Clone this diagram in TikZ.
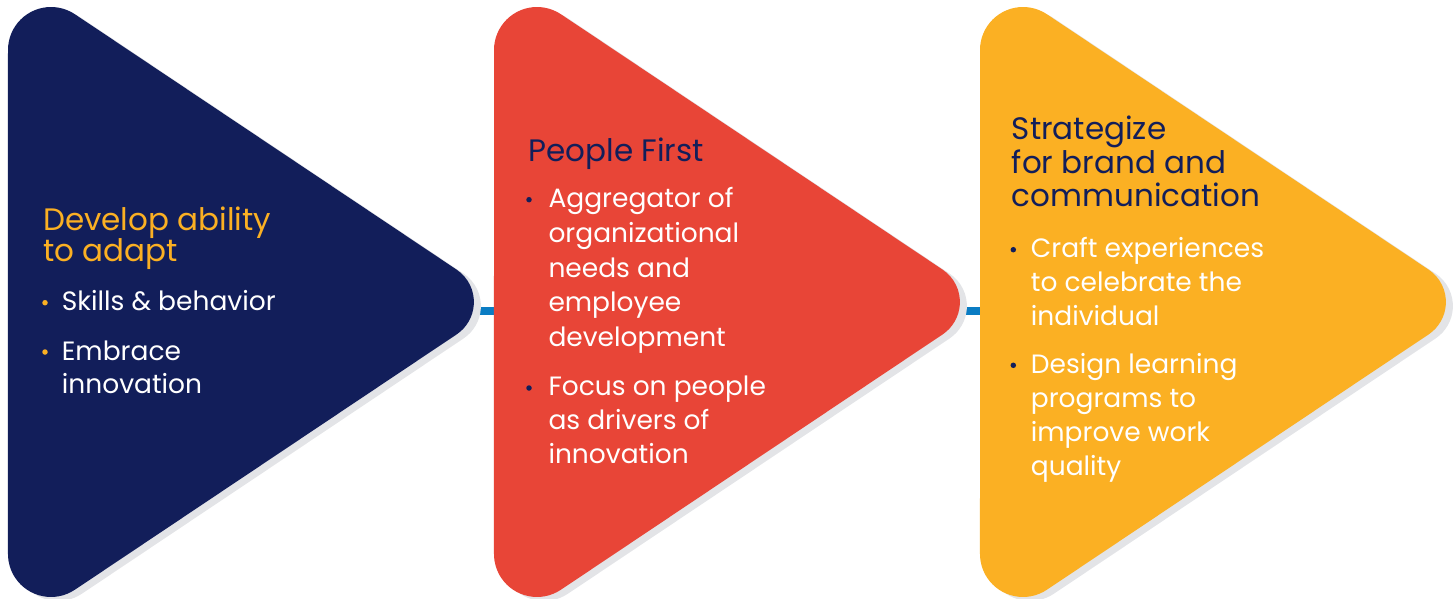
\documentclass[tikz,border=0pt]{standalone}
\usepackage{fontspec}
\setmainfont{Poppins}
\usetikzlibrary{calc}

\definecolor{navy}{HTML}{121E5A}
\definecolor{coral}{HTML}{E84537}
\definecolor{gold}{HTML}{FBB023}
\definecolor{linkblue}{HTML}{0A7CC3}
\definecolor{shadowgray}{HTML}{E3E4E7}

% multi-line nodes are placed by the baseline of their last line
\tikzset{
  heading/.style={anchor=base west, inner sep=0pt, align=left,
                  font=\fontsize{31}{33}\selectfont},
  body/.style={anchor=base west, inner sep=0pt, align=left, text=white,
               font=\fontsize{26.5}{34.3}\selectfont},
  dot/.style={circle, inner sep=0pt, minimum size=5.5pt},
  bar/.style={draw=linkblue, line width=8pt},
  shadowfill/.style={fill=shadowgray},
}

\begin{document}
\begin{tikzpicture}[x=1pt, y=-1pt]
  \useasboundingbox (0,0) rectangle (1454,598);

  % joining bars between the chevrons
  \coordinate (tip1) at (474,311);
  \coordinate (left2) at (494.5,311);
  \coordinate (tip2) at (960,311);
  \coordinate (left3) at (980.5,311);
  \draw[bar] (tip1) -- (left2);
  \draw[bar] (tip2) -- (left3);

  % rounded chevrons with their drop shadows
  \foreach \L/\c in {8/navy, 494/coral, 980/gold} {
    \begin{scope}[shift={(\L,0)}]
      \fill[shadowfill, shift={(7,4)}]
        (0,50) arc[start angle=180, end angle=303.79, radius=43]
        -- (448.6,269.6) arc[start angle=-56.21, end angle=56.21, radius=39]
        -- (66.9,589.7) arc[start angle=56.21, end angle=180, radius=43]
        -- cycle;
      \fill[\c]
        (0,50) arc[start angle=180, end angle=303.79, radius=43]
        -- (448.6,269.6) arc[start angle=-56.21, end angle=56.21, radius=39]
        -- (66.9,589.7) arc[start angle=56.21, end angle=180, radius=43]
        -- cycle;
    \end{scope}
  }

  % first chevron
  \node[heading, text=gold, font=\fontsize{31}{31.7}\selectfont] (h1) at (43,261.7)
    {Develop ability\\to adapt};
  \node[dot, fill=gold] (d11) at (45,302.7) {};
  \node[body] (b11) at (61.7,310.7) {Skills \& behavior};
  \node[dot, fill=gold] (d12) at (45,352) {};
  \node[body, font=\fontsize{26.5}{33.3}\selectfont] (b12) at (61.7,393.3) {Embrace\\innovation};

  % second chevron
  \node[heading, text=navy] (h2) at (528.3,161) {People First};
  \node[dot, fill=navy] (d21) at (529,199.7) {};
  \node[body, font=\fontsize{26.5}{34.75}\selectfont] (b21) at (548.3,346.7)
    {Aggregator of\\organizational\\needs and\\employee\\development};
  \node[dot, fill=navy] (d22) at (529,388) {};
  \node[body, font=\fontsize{26.5}{33.7}\selectfont] (b22) at (548.3,463.3)
    {Focus on people\\as drivers of\\innovation};

  % third chevron
  \node[heading, text=navy, font=\fontsize{31}{33.7}\selectfont] (h3) at (1011.7,206.7)
    {Strategize\\for brand and\\communication};
  \node[dot, fill=navy] (d31) at (1013.3,249.7) {};
  \node[body, font=\fontsize{26.5}{33.65}\selectfont] (b31) at (1030.7,325)
    {Craft experiences\\to celebrate the\\individual};
  \node[dot, fill=navy] (d32) at (1013.3,365.3) {};
  \node[body, font=\fontsize{26.5}{33.9}\selectfont] (b32) at (1030.7,475)
    {Design learning\\programs to\\improve work\\quality};
\end{tikzpicture}
\end{document}
